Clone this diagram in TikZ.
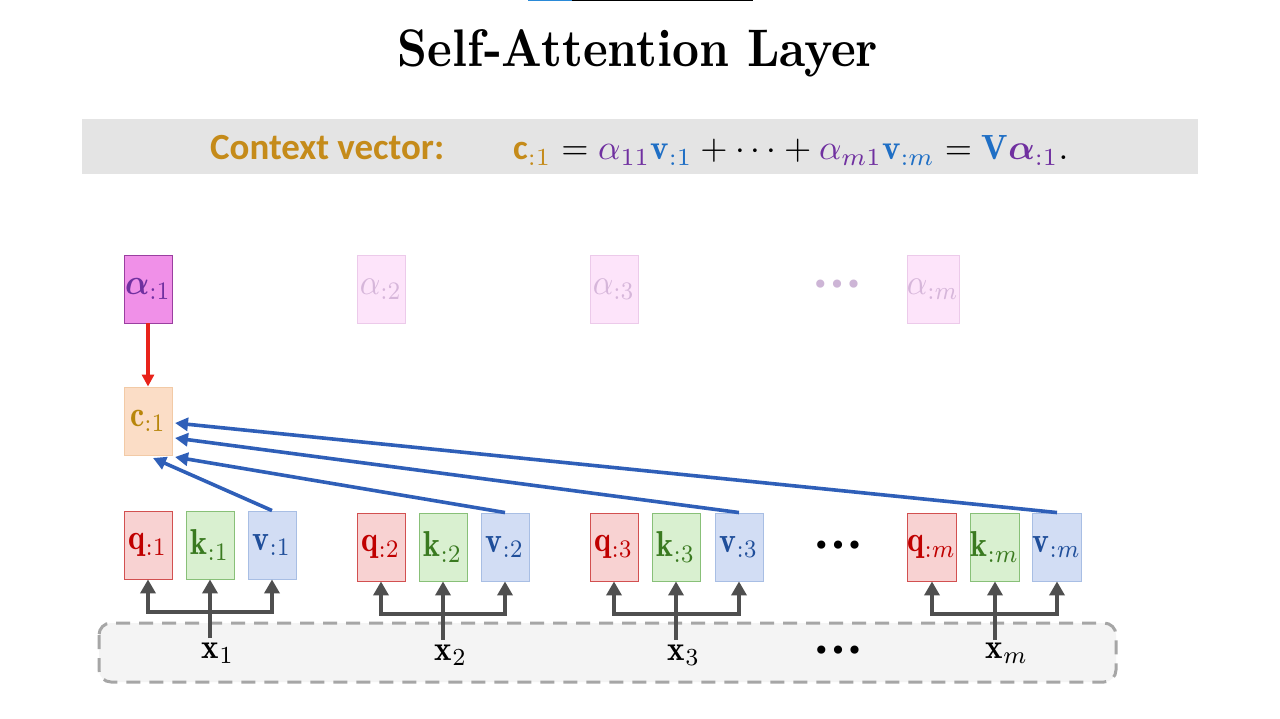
\documentclass[tikz,border=0pt]{standalone}
\usepackage{amsmath}
\usepackage{bm}
\usepackage{fontspec}
\setsansfont{Carlito}
\newfontfamily\dejavu{DejaVu Sans}
\usetikzlibrary{arrows.meta}
\newcommand{\cellmath}[1]{\raisebox{-3pt}{\scalebox{3.2}[3.6]{$#1$}}}
\newcommand{\xmath}[1]{\scalebox{3.3}[3.5]{$#1$}}
\definecolor{gold}{HTML}{C58B1A}
\definecolor{cgold}{HTML}{B8860B}
\definecolor{apurple}{HTML}{7030A0}
\definecolor{vblue}{HTML}{1F6FC5}
\definecolor{vdark}{HTML}{1F4E9A}
\definecolor{qred}{HTML}{C00000}
\definecolor{kgreen}{HTML}{3A7A20}
\definecolor{band}{HTML}{E4E4E4}
\definecolor{arrblue}{HTML}{2F5FB8}
\definecolor{arrgrey}{HTML}{4F4F4F}
\definecolor{dashgrey}{HTML}{A6A6A6}
\definecolor{fadetext}{HTML}{D6B6DA}
\definecolor{qfill}{HTML}{F8D2D2}
\definecolor{qdraw}{HTML}{D25050}
\definecolor{kfill}{HTML}{D9F0D0}
\definecolor{kdraw}{HTML}{88C078}
\definecolor{vfill}{HTML}{D2DDF4}
\definecolor{vdraw}{HTML}{A8BEE4}
\definecolor{afill}{HTML}{F090E8}
\definecolor{adraw}{HTML}{9A3FA0}
\definecolor{fadefill}{HTML}{FDE4FA}
\definecolor{fadedraw}{HTML}{ECCAEA}
\definecolor{cfill}{HTML}{FBDDC6}
\definecolor{cdraw}{HTML}{F2CAA6}
\definecolor{redarr}{HTML}{E8231A}
\definecolor{regionfill}{HTML}{F4F4F4}
\definecolor{fadedots}{HTML}{CDB5D6}
\definecolor{topblue}{HTML}{2A8AD8}
\begin{document}
\begin{tikzpicture}[x=1pt,y=-1pt,
  cell/.style={draw, line width=0.9pt, minimum width=48pt, minimum height=68pt, inner sep=0pt},
  qbox/.style={cell, fill=qfill, draw=qdraw, text=qred},
  kbox/.style={cell, fill=kfill, draw=kdraw, text=kgreen},
  vbox/.style={cell, fill=vfill, draw=vdraw, text=vdark},
  abox/.style={cell, fill=afill, draw=adraw, text=apurple},
  afade/.style={cell, fill=fadefill, draw=fadedraw, text=fadetext},
  cbox/.style={cell, fill=cfill, draw=cdraw, text=cgold},
  xlab/.style={inner sep=0pt},
  barrow/.style={draw=arrblue, line width=3.6pt, -{Triangle[length=13pt,width=13pt]}},
  rarrow/.style={draw=redarr, line width=3.2pt, -{Triangle[length=12pt,width=12pt]}},
  garrow/.style={draw=arrgrey, line width=4pt, -{Triangle[length=14pt,width=15pt]}},
  dots/.style={inner sep=0pt, font=\dejavu\fontsize{28}{30}\selectfont}
]
\useasboundingbox (0,0) rectangle (1280,719);
\fill[white] (0,0) rectangle (1280,719);
% top artifact line
\fill[topblue] (528,0) rectangle (572,1.5);
\fill[black] (572,0) rectangle (753,1.5);

% title
\node[anchor=base, inner sep=0pt] (title) at (638,67) {\resizebox{480pt}{37pt}{\bfseries Self-Attention Layer}};

% band
\fill[band] (82,119) rectangle (1198,174);
\node[anchor=base west, inner sep=0pt, text=gold] (ctx) at (210,160) {\resizebox{234pt}{!}{\sffamily\bfseries Context vector:}};
\node[anchor=base west, inner sep=0pt] (formula) at (513,160) {\resizebox{555pt}{!}{$\textcolor{gold}{\mbox{\sffamily\bfseries c}_{:1}} = \textcolor{apurple}{\alpha_{11}}\textcolor{vblue}{\mathbf{v}_{:1}} + \cdots + \textcolor{apurple}{\alpha_{m1}}\textcolor{vblue}{\mathbf{v}_{:m}} = \textcolor{vblue}{\mathbf{V}}\textcolor{apurple}{\bm{\alpha}_{:1}}.$}};

% alpha row
\node[abox] (a1) at (148,289) {\cellmath{\bm{\alpha}_{:1}}};
\node[afade] (a2) at (381,289) {\cellmath{\alpha_{:2}}};
\node[afade] (a3) at (614,289) {\cellmath{\alpha_{:3}}};
\node[afade] (am) at (933,289) {\cellmath{\alpha_{:m}}};
\node[dots, text=fadedots] (adots) at (837,287) {•••};

% context node
\node[cbox] (c1) at (148,421) {\cellmath{\mathbf{c}_{:1}}};

% dashed input region
\draw[draw=dashgrey, fill=regionfill, line width=3pt, dash pattern=on 14pt off 9pt, rounded corners=12pt] (99,623) rectangle (1116,682);

% q k v groups
\node[qbox] (q1) at (148,545) {\cellmath{\mathbf{q}_{:1}}};
\node[kbox] (k1) at (210,545) {\cellmath{\mathbf{k}_{:1}}};
\node[vbox] (v1) at (272,545) {\cellmath{\mathbf{v}_{:1}}};
\node[qbox] (q2) at (381,547) {\cellmath{\mathbf{q}_{:2}}};
\node[kbox] (k2) at (443,547) {\cellmath{\mathbf{k}_{:2}}};
\node[vbox] (v2) at (505,547) {\cellmath{\mathbf{v}_{:2}}};
\node[qbox] (q3) at (614,547) {\cellmath{\mathbf{q}_{:3}}};
\node[kbox] (k3) at (676,547) {\cellmath{\mathbf{k}_{:3}}};
\node[vbox] (v3) at (739,547) {\cellmath{\mathbf{v}_{:3}}};
\node[qbox] (qm) at (932,547) {\cellmath{\mathbf{q}_{:m}}};
\node[kbox] (km) at (995,547) {\cellmath{\mathbf{k}_{:m}}};
\node[vbox] (vm) at (1057,547) {\cellmath{\mathbf{v}_{:m}}};
\node[dots] (qdots) at (838,548) {•••};

% x labels
\node[xlab] (x1) at (218,653) {\xmath{\mathbf{x}_1}};
\node[xlab] (x2) at (451,655) {\xmath{\mathbf{x}_2}};
\node[xlab] (x3) at (684,655) {\xmath{\mathbf{x}_3}};
\node[xlab] (xm) at (1007,653) {\xmath{\mathbf{x}_m}};
\node[dots] (xdots) at (838,653) {•••};

% grey fan-out connectors
\coordinate (b1) at (210,638); \coordinate (j1) at (210,612);
\coordinate (b2) at (443,640); \coordinate (j2) at (443,614);
\coordinate (b3) at (676,640); \coordinate (j3) at (676,614);
\coordinate (bm) at (995,640); \coordinate (jm) at (995,614);
\foreach \g in {1,2,3,m}{
  \draw[garrow] (b\g) -- (k\g.south);
  \draw[garrow] (j\g) -| (q\g.south);
  \draw[garrow] (j\g) -| (v\g.south);
}

% red arrow
\draw[rarrow] (a1.south) -- (c1.north);

% blue arrows into c
\coordinate (cin1) at (153,458);
\coordinate (cin2) at (175,457);
\coordinate (cin3) at (175,438);
\coordinate (cinm) at (175,423);
\draw[barrow] (v1.north) -- (cin1);
\draw[barrow] (v2.north) -- (cin2);
\draw[barrow] (v3.north) -- (cin3);
\draw[barrow] (vm.north) -- (cinm);
\end{tikzpicture}
\end{document}
